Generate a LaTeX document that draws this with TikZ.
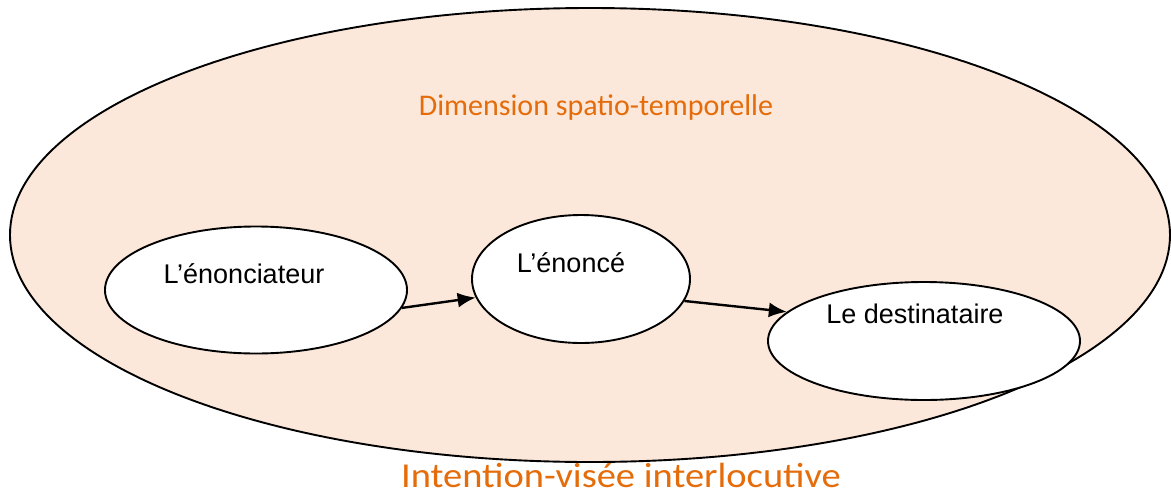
\documentclass[tikz,border=0pt]{standalone}
\usepackage{fontspec}
\setmainfont{Liberation Sans}
\newfontfamily\calfont{Carlito}
\newfontfamily\calwide[FakeStretch=1.1]{Carlito}
\usetikzlibrary{shapes.geometric,arrows.meta}
\definecolor{peach}{RGB}{252,232,218}
\definecolor{orangetxt}{RGB}{228,108,10}
\tikzset{
  oval/.style={ellipse, draw=black, line width=1.9pt, fill=white, inner sep=0pt},
  bigoval/.style={ellipse, draw=black, line width=1.9pt, fill=peach, inner sep=0pt},
  lbl/.style={font=\fontsize{27}{30}\selectfont, text=black, inner sep=0pt, anchor=base},
  otxt/.style={font=\calfont\fontsize{30}{33}\selectfont, text=orangetxt, inner sep=0pt, anchor=base},
  conn/.style={line width=2.4pt, -{Latex[length=18pt,width=15pt]}}
}
\begin{document}
\begin{tikzpicture}[x=1pt,y=-1pt]
\useasboundingbox (0,0) rectangle (1171,491);
\node[bigoval, minimum width=1160pt, minimum height=454pt] (big) at (590,235) {};
\node[oval, minimum width=302pt, minimum height=127pt] (e1) at (256,290) {};
\node[oval, minimum width=218pt, minimum height=128pt] (e2) at (581,279) {};
\node[oval, minimum width=312pt, minimum height=118pt] (e3) at (924,341) {};
\node[lbl] (t1) at (244,283) {L’énonciateur};
\node[lbl] (t2) at (571,272) {L’énoncé};
\node[lbl] (t3) at (915,323) {Le destinataire};
\node[otxt] (dim) at (596,115) {Dimension spatio-temporelle};
\node[otxt, font=\calwide\fontsize{35}{38}\selectfont] (int) at (621,487) {Intention-visée interlocutive};
\draw[conn] (e1.-7.6) -- (e2.190);
\draw[conn] (e2.-12) -- (e3.168);
\end{tikzpicture}
\end{document}
